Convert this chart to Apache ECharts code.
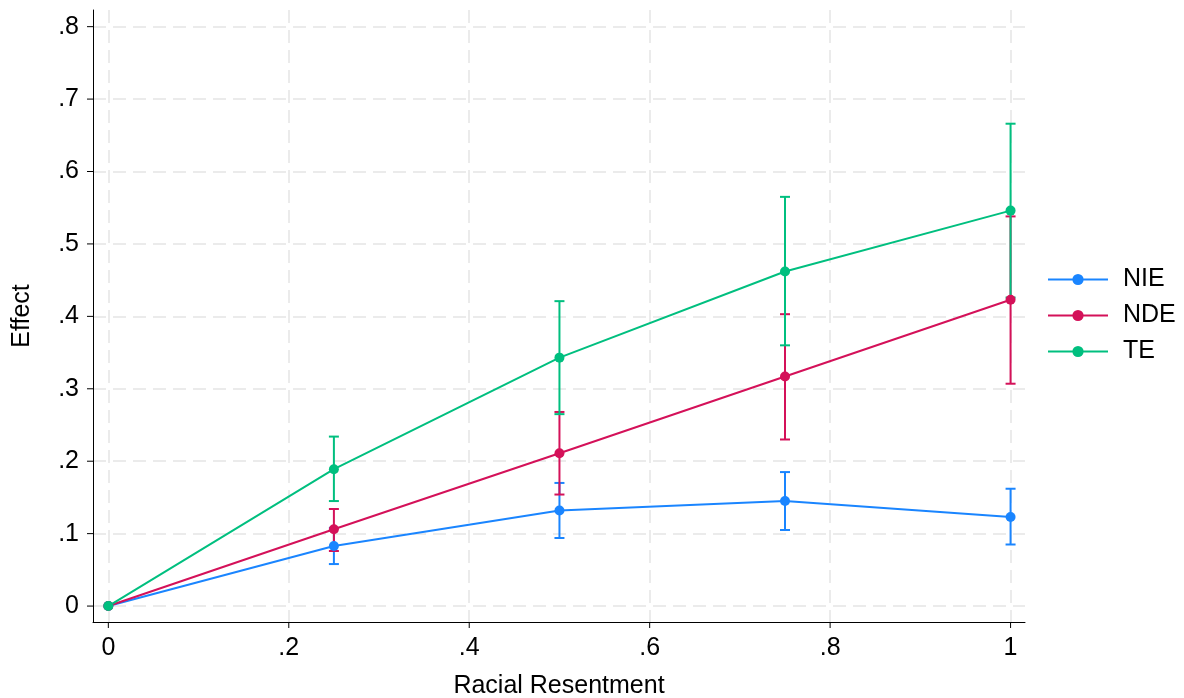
<!DOCTYPE html>
<html>
<head>
<meta charset="utf-8">
<script src="https://cdn.jsdelivr.net/npm/echarts@6/dist/echarts.min.js"></script>
<style>
  html, body { margin: 0; padding: 0; background: #fff; }
  #main { width: 1184px; height: 698px; }
</style>
</head>
<body>
<div id="main"></div>
<script>
// x values (racial resentment)
var xVals = [0, 0.25, 0.5, 0.75, 1];

// NIE
var nie = [0, 0.083, 0.132, 0.145, 0.123];
var nieLo = [0, 0.058, 0.094, 0.105, 0.085];
var nieHi = [0, 0.108, 0.170, 0.185, 0.162];
// NDE
var nde = [0, 0.106, 0.211, 0.317, 0.423];
var ndeLo = [0, 0.076, 0.154, 0.230, 0.307];
var ndeHi = [0, 0.134, 0.268, 0.403, 0.538];
// TE
var te = [0, 0.189, 0.343, 0.462, 0.546];
var teLo = [0, 0.145, 0.265, 0.360, 0.426];
var teHi = [0, 0.234, 0.421, 0.565, 0.666];

var xTicks = [0, 0.2, 0.4, 0.6, 0.8, 1];
var yTicks = [0, 0.1, 0.2, 0.3, 0.4, 0.5, 0.6, 0.7, 0.8];

// axis ranges (plot region is a bit wider than the data, as in Stata)
var xMin = -0.017, xMax = 1.016;
var yMin = -0.022, yMax = 0.823;

var colors = { NIE: '#1a85ff', NDE: '#d41159', TE: '#00bf7f' };
var font = 'Liberation Sans, Arial, Helvetica, sans-serif';

// Stata style: drop the leading zero
function fmt(v) {
  var s = (+v).toFixed(1);
  if (s === '0.0') return '0';
  if (s === '1.0') return '1';
  return s.replace(/^0\./, '.');
}

function pairs(ys) {
  return xVals.map(function (x, i) { return [x, ys[i]]; });
}
function ciData(lo, hi) {
  return xVals.map(function (x, i) { return [x, lo[i], hi[i]]; });
}

// draws a vertical bar with caps
function renderCI(params, api) {
  var x = api.value(0), lo = api.value(1), hi = api.value(2);
  if (hi === lo) return null;
  var a = api.coord([x, lo]), b = api.coord([x, hi]);
  var w = 5;
  var st = { stroke: api.visual('color'), lineWidth: 2 };
  return {
    type: 'group',
    children: [
      { type: 'line', shape: { x1: a[0], y1: a[1], x2: b[0], y2: b[1] }, style: st },
      { type: 'line', shape: { x1: a[0] - w, y1: a[1], x2: a[0] + w, y2: a[1] }, style: st },
      { type: 'line', shape: { x1: b[0] - w, y1: b[1], x2: b[0] + w, y2: b[1] }, style: st }
    ]
  };
}

// tick marks outside the axes (customValues ticks don't draw here)
function tickSeries(data, dx, dy) {
  return {
    type: 'custom', data: data, z: 2, silent: true, animation: false,
    renderItem: function (params, api) {
      var p = api.coord([api.value(0), api.value(1)]);
      return {
        type: 'line',
        shape: { x1: p[0], y1: p[1], x2: p[0] + dx, y2: p[1] + dy },
        style: { stroke: '#000', lineWidth: 1 }
      };
    }
  };
}

function lineSeries(name, ys) {
  return {
    name: name, type: 'line', data: pairs(ys), z: 5,
    color: colors[name],
    symbol: 'circle', symbolSize: 10,
    lineStyle: { width: 2, color: colors[name] },
    itemStyle: { color: colors[name] },
    animation: false
  };
}
function ciSeries(name, lo, hi) {
  return {
    name: name + ' CI', type: 'custom', data: ciData(lo, hi), z: 3,
    encode: { x: 0, y: [1, 2] },
    itemStyle: { color: colors[name], opacity: 0.85 },
    renderItem: renderCI,
    animation: false
  };
}

var chart = echarts.init(document.getElementById('main'));
chart.setOption({
  backgroundColor: '#fff',
  grid: { left: 93, right: 159, top: 10, bottom: 76, outerBoundsMode: 'none', containLabel: false },
  legend: {
    orient: 'vertical', left: 1042, top: 262,
    data: ['NIE', 'NDE', 'TE'],
    itemWidth: 60, itemHeight: 14, itemGap: 11,
    textStyle: { fontFamily: font, fontSize: 25, lineHeight: 25, color: '#000', padding: [0, 0, 0, 10] }
  },
  xAxis: {
    type: 'value', min: xMin, max: xMax,
    name: 'Racial Resentment', nameLocation: 'middle', nameGap: 52,
    nameTextStyle: { fontFamily: font, fontSize: 25, color: '#000' },
    axisLine: { show: true, onZero: false, lineStyle: { color: '#000', width: 1 } },
    axisTick: { show: false, customValues: xTicks },
    axisLabel: { customValues: xTicks, formatter: fmt, fontFamily: font, fontSize: 25, color: '#000', margin: 14 },
    splitLine: { show: true, lineStyle: { color: '#ebebeb', type: [13, 7], width: 2 } }
  },
  yAxis: {
    type: 'value', min: yMin, max: yMax,
    name: 'Effect', nameLocation: 'middle', nameGap: 58,
    nameTextStyle: { fontFamily: font, fontSize: 25, color: '#000' },
    axisLine: { show: true, onZero: false, lineStyle: { color: '#000', width: 1 } },
    axisTick: { show: false, customValues: yTicks },
    axisLabel: { customValues: yTicks, formatter: fmt, fontFamily: font, fontSize: 25, color: '#000', margin: 14 },
    splitLine: { show: true, lineStyle: { color: '#ebebeb', type: [13, 7], width: 2 } }
  },
  series: [
    tickSeries(xTicks.map(function (v) { return [v, yMin]; }), 0, 6),
    tickSeries(yTicks.map(function (v) { return [xMin, v]; }), -6, 0),
    ciSeries('NIE', nieLo, nieHi),
    ciSeries('NDE', ndeLo, ndeHi),
    ciSeries('TE', teLo, teHi),
    lineSeries('NIE', nie),
    lineSeries('NDE', nde),
    lineSeries('TE', te)
  ]
});
</script>
</body>
</html>
